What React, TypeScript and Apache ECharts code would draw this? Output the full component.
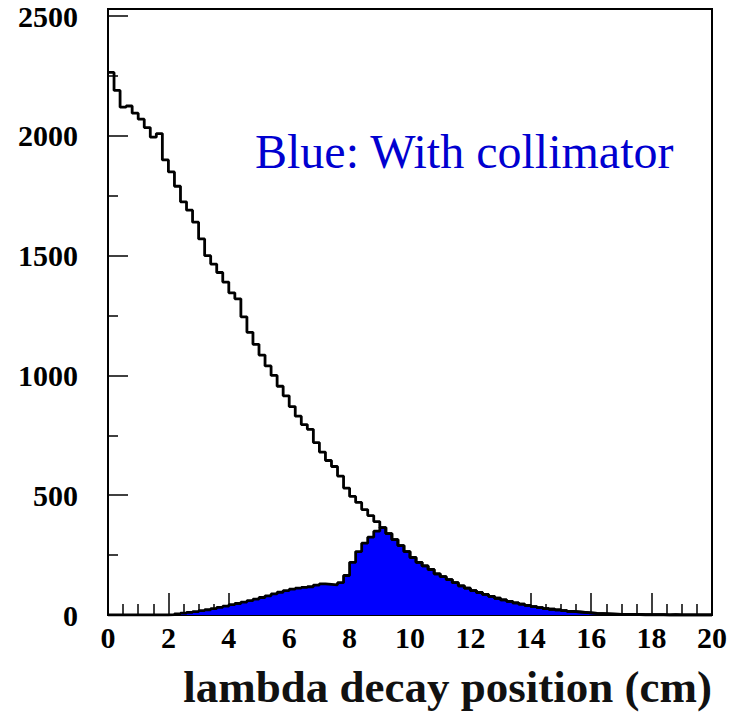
import React, { useEffect, useRef } from "react";
import * as echarts from "echarts";

// Histogram bin width (cm); bins start at 0 and cover 0–20 cm
const BIN_WIDTH = 0.2;

// Without collimator (black outline), bins 0.0 … 8.8 cm; beyond that it coincides with the blue histogram
const withoutCollimatorHead = [
  2265, 2190, 2120, 2125, 2095, 2070, 2035, 1995, 2010, 1900,
  1850, 1790, 1725, 1690, 1640, 1570, 1500, 1465, 1430, 1390,
  1345, 1320, 1245, 1180, 1130, 1085, 1040, 1000, 955, 915,
  870, 830, 795, 775, 720, 680, 645, 620, 580, 530,
  495, 470, 440, 415, 390,
];

// With collimator (blue filled), bins 0.0 … 19.8 cm
const withCollimator = [
  0, 0, 0, 0, 0, 0, 0, 0, 0, 0,
  2, 5, 8, 11, 14, 18, 22, 27, 32, 37,
  43, 48, 54, 60, 66, 73, 80, 88, 95, 102,
  108, 112, 115, 118, 125, 130, 128, 126, 135, 165,
  220, 265, 300, 325, 350, 365, 340, 315, 290, 265,
  240, 220, 205, 190, 172, 160, 148, 135, 122, 112,
  102, 94, 86, 78, 70, 63, 57, 51, 45, 40,
  35, 31, 27, 24, 21, 18, 15, 13, 11, 9,
  7, 6, 5, 4, 3, 3, 2, 2, 1, 1,
  1, 1, 0, 1, 0, 0, 0, 0, 0, 0,
];

const withoutCollimator = [
  ...withoutCollimatorHead,
  ...withCollimator.slice(withoutCollimatorHead.length),
];

const annotationText = "Blue: With collimator";
const xAxisTitle = "lambda decay position (cm)";

function toSteps(values: number[]) {
  const pts = values.map((v, i) => [+(i * BIN_WIDTH).toFixed(2), v]);
  pts.push([+(values.length * BIN_WIDTH).toFixed(2), values[values.length - 1]]);
  return pts;
}

const FONT = "'Liberation Serif', 'Times New Roman', serif";

export default function App() {
  const ref = useRef<HTMLDivElement>(null);

  useEffect(() => {
    document.body.style.margin = "0";
    document.body.style.overflow = "hidden";
    if (!ref.current) return;
    const chart = echarts.init(ref.current, undefined, { renderer: "svg" });
    chart.setOption({
      animation: false,
      backgroundColor: "#fff",
      grid: {
        left: 108,
        right: 30,
        top: 9,
        bottom: 103,
        show: true,
        borderColor: "#000",
        borderWidth: 2,
      },
      xAxis: {
        type: "value",
        min: 0,
        max: 20,
        interval: 2,
        axisLine: { show: true, lineStyle: { color: "#000", width: 2 } },
        axisTick: { show: true, inside: true, length: 22, lineStyle: { color: "#000", width: 1.5 } },
        minorTick: { show: true, splitNumber: 4, length: 11, lineStyle: { color: "#000", width: 1.5 } },
        splitLine: { show: false },
        axisLabel: {
          color: "#000",
          fontFamily: FONT,
          fontWeight: "bold",
          fontSize: 30,
          margin: 7,
          formatter: (v: number) => String(v),
        },
      },
      yAxis: {
        type: "value",
        min: 0,
        max: 2530,
        interval: 500,
        axisLine: { show: true, lineStyle: { color: "#000", width: 2 } },
        axisTick: { show: true, inside: true, length: 20, lineStyle: { color: "#000", width: 1.5 } },
        minorTick: { show: true, splitNumber: 2, length: 10, lineStyle: { color: "#000", width: 1.5 } },
        splitLine: { show: false },
        axisLabel: {
          color: "#000",
          fontFamily: FONT,
          fontWeight: "bold",
          fontSize: 30,
          margin: 30,
          showMaxLabel: false,
          formatter: (v: number) => (v % 500 === 0 ? String(v) : ""),
        },
      },
      series: [
        {
          type: "line",
          name: "With collimator",
          step: "end",
          symbol: "none",
          data: toSteps(withCollimator),
          lineStyle: { color: "#000", width: 2.8 },
          areaStyle: { color: "#0000ff", opacity: 1 },
          z: 2,
        },
        {
          type: "line",
          name: "Without collimator",
          step: "end",
          symbol: "none",
          data: toSteps(withoutCollimator),
          lineStyle: { color: "#000", width: 2.8 },
          z: 3,
        },
      ],
      graphic: [
        {
          type: "text",
          left: 255,
          top: 127,
          style: {
            text: annotationText,
            fill: "#0000d0",
            font: `48px ${FONT}`,
          },
        },
        {
          type: "text",
          right: 30,
          top: 664,
          style: {
            text: xAxisTitle,
            fill: "#111",
            font: `bold 45px ${FONT}`,
          },
        },
      ],
    });
    return () => chart.dispose();
  }, []);

  return <div ref={ref} style={{ width: 742, height: 718 }} />;
}
